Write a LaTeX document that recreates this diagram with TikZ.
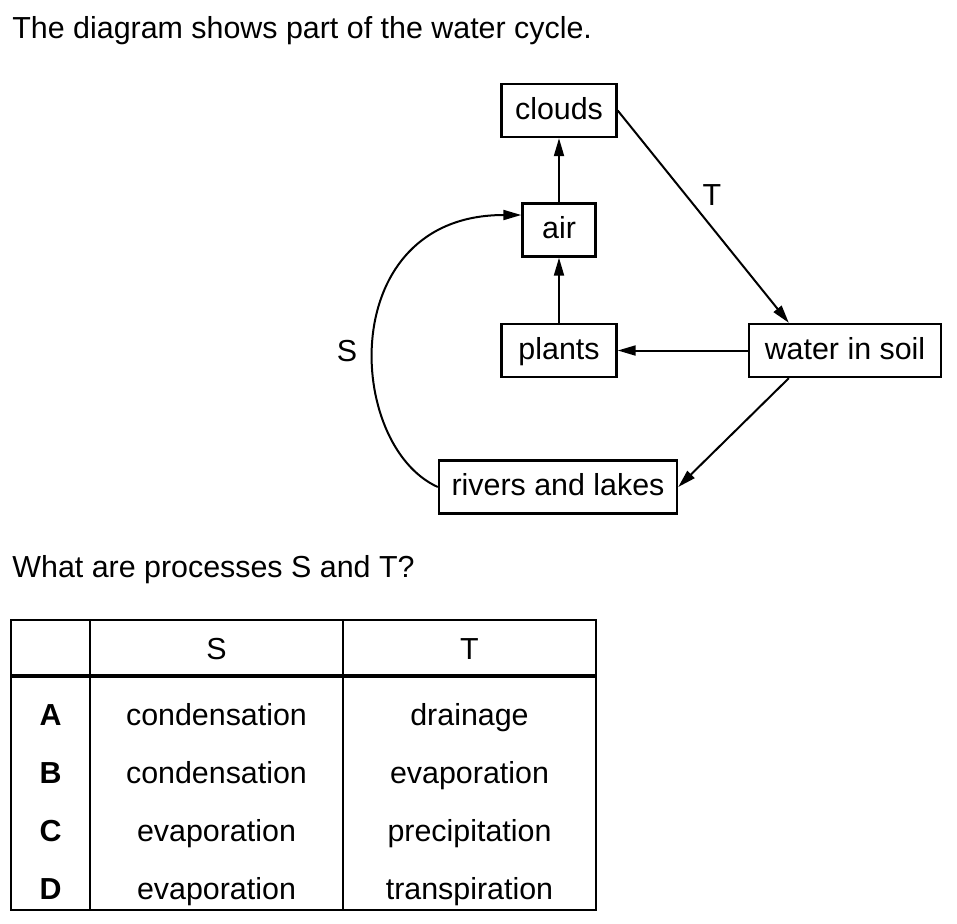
\documentclass[tikz,border=0pt]{standalone}
\usepackage{fontspec}
\setmainfont{Liberation Sans}
\usetikzlibrary{positioning,arrows.meta}

\begin{document}
\begin{tikzpicture}[x=0.5pt, y=-0.5pt,
    every node/.style={font=\fontsize{15.2}{18}\selectfont},
    cyclebox/.style={draw, line width=1.2pt, minimum height=26.5pt, inner sep=0pt,
        text height=10.9pt, text depth=2.2pt},
    flow/.style={line width=1pt, -{Triangle[length=9pt, width=5pt]}},
    gridline/.style={line width=1pt}]
    \useasboundingbox (0,0) rectangle (957,923);

    % Question text
    \node[anchor=base west, inner sep=0pt] (intro) at (12,38) {The diagram shows part of the water cycle.};

    % Water cycle boxes
    \node[cyclebox, minimum width=57.5pt] (clouds) at (559,110.5) {clouds};
    \node[cyclebox, minimum width=36.5pt] (air) at (559,230) {air};
    \node[cyclebox, minimum width=57.5pt] (plants) at (559,350.5) {plants};
    \node[cyclebox, minimum width=96pt] (soil) at (845,350.5) {water in soil};
    \node[cyclebox, minimum width=119pt] (rivers) at (558,487) {rivers and lakes};

    % Arrows between the boxes
    \draw[flow] (air) -- (clouds);
    \draw[flow] (plants) -- (air);
    \draw[flow] (soil) -- (plants);
    \draw[flow] (clouds.east) -- ([xshift=20.5pt]soil.north west);
    \draw[flow] ([xshift=20.5pt]soil.south west) -- (rivers.east);
    \draw[flow] (rivers.west) .. controls (345,445) and (335,215) .. ([yshift=7.5pt]air.west);
    \node (lblT) at (712,195) {T};
    \node (lblS) at (347,351) {S};

    \node[anchor=base west, inner sep=0pt] (question) at (12,577) {What are processes S and T?};

    % Table of options
    \draw[gridline] (11,620) rectangle (596,910);
    \draw[gridline] (90,620) -- (90,910);
    \draw[gridline] (343,620) -- (343,910);
    \draw[line width=1.8pt] (11,676) -- (596,676);
    \node[anchor=base] (headS) at (216.5,659) {S};
    \node[anchor=base] (headT) at (469.5,659) {T};
    \foreach \opt/\procS/\procT [count=\i] in {A/condensation/drainage, B/condensation/evaporation,
        C/evaporation/precipitation, D/evaporation/transpiration} {
        \node[anchor=base, font=\fontsize{15.2}{18}\selectfont\bfseries] (opt\opt) at (50.5,667+58*\i) {\opt};
        \node[anchor=base] (S\opt) at (216.5,667+58*\i) {\procS};
        \node[anchor=base] (T\opt) at (469.5,667+58*\i) {\procT};
    }
\end{tikzpicture}
\end{document}
